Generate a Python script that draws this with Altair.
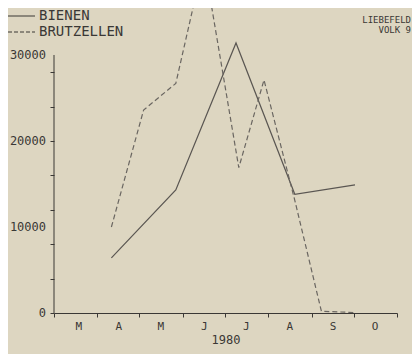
import altair as alt
import pandas as pd

# --- data ---
bienen_dates = ["1980-04-11", "1980-05-27", "1980-07-09", "1980-08-20", "1980-10-02"]
bienen_values = [6400, 14300, 31400, 13800, 14900]

brut_dates = ["1980-04-11", "1980-05-04", "1980-05-27", "1980-06-16", "1980-07-11",
              "1980-07-29", "1980-08-20", "1980-09-08", "1980-10-02"]
brut_values = [10000, 23600, 26700, 41000, 16900, 27100, 13100, 200, 50]

y_tick_values = list(range(0, 30001, 2000))
y_label_values = [0, 10000, 20000, 30000]
month_starts = list(range(3, 12))
legend_labels = ["BIENEN", "BRUTZELLEN"]
corner_labels = ["LIEBEFELD", "VOLK 9"]
x_title = "1980"

W, H = 343, 305
YMAX = 35465
BG = "#ddd6c1"
INK = "#3a3835"
FONT = "DejaVu Sans Mono"

df_b = pd.DataFrame({"date": bienen_dates, "value": bienen_values})
df_z = pd.DataFrame({"date": brut_dates, "value": brut_values})
df_yl = pd.DataFrame({"v": y_label_values})

x_scale = alt.Scale(domain=[alt.DateTime(year=1980, month=3, date=1),
                            alt.DateTime(year=1980, month=11, date=1)])
y_scale = alt.Scale(domain=[0, YMAX], nice=False, zero=True)

x_axis = alt.Axis(
    values=[alt.DateTime(year=1980, month=m, date=1) for m in month_starts],
    format="%b",
    labelExpr="datum.label == 'Nov' ? '' : substring(datum.label, 0, 1)",
    labelOffset=21,
    labelPadding=3,
    labelFontSize=11,
    labelOverlap=False,
    ticks=True,
    tickSize=4,
    title=x_title,
    titlePadding=3,
    grid=False,
)
y_axis = alt.Axis(
    values=y_tick_values,
    labels=False,
    domain=False,
    ticks=True,
    tickSize=4,
    title=None,
    grid=False,
)

bienen = alt.Chart(df_b).mark_line(color="#5a5652", strokeWidth=1.2, clip=True).encode(
    x=alt.X("date:T", scale=x_scale, axis=x_axis),
    y=alt.Y("value:Q", scale=y_scale, axis=y_axis),
)
brut = alt.Chart(df_z).mark_line(color="#6a6661", strokeWidth=1.2, strokeDash=[5, 3], clip=True).encode(
    x=alt.X("date:T", scale=x_scale),
    y=alt.Y("value:Q", scale=y_scale),
)

yline = alt.Chart(pd.DataFrame({"lo": [0], "hi": [30000]})).mark_rule(color=INK, strokeWidth=1).encode(
    x=alt.value(0),
    y=alt.Y("lo:Q", scale=y_scale),
    y2="hi:Q",
)

ylabels = alt.Chart(df_yl).mark_text(
    align="right", baseline="middle", font=FONT, fontSize=12, color=INK).encode(
    x=alt.value(-8),
    y=alt.Y("v:Q", scale=y_scale),
    text=alt.Text("v:Q", format="d"),
)

leg_line1 = alt.Chart(pd.DataFrame({"t": [legend_labels[0]]})).mark_rule(color=INK, strokeWidth=1).encode(
    x=alt.value(-46), x2=alt.value(-19), y=alt.value(8))
leg_line2 = alt.Chart(pd.DataFrame({"t": [legend_labels[1]]})).mark_rule(color=INK, strokeWidth=1, strokeDash=[4, 2]).encode(
    x=alt.value(-46), x2=alt.value(-19), y=alt.value(24))
leg_text1 = alt.Chart(pd.DataFrame({"t": [legend_labels[0]]})).mark_text(
    align="left", baseline="middle", font=FONT, fontSize=14, color=INK).encode(
    x=alt.value(-15), y=alt.value(8), text="t:N")
leg_text2 = alt.Chart(pd.DataFrame({"t": [legend_labels[1]]})).mark_text(
    align="left", baseline="middle", font=FONT, fontSize=14, color=INK).encode(
    x=alt.value(-15), y=alt.value(24), text="t:N")
corner1 = alt.Chart(pd.DataFrame({"t": [corner_labels[0]]})).mark_text(
    align="right", baseline="middle", font=FONT, fontSize=9, color=INK).encode(
    x=alt.value(357), y=alt.value(12), text="t:N")
corner2 = alt.Chart(pd.DataFrame({"t": [corner_labels[1]]})).mark_text(
    align="right", baseline="middle", font=FONT, fontSize=9, color=INK).encode(
    x=alt.value(357), y=alt.value(22), text="t:N")

chart = alt.layer(
    bienen, brut, yline, ylabels, leg_line1, leg_line2, leg_text1, leg_text2, corner1, corner2
).properties(
    width=W, height=H,
    padding={"left": 46, "top": 0, "right": 15, "bottom": 41},
    autosize="none",
    background=BG,
).configure_view(stroke=None).configure_axis(
    domainColor=INK, tickColor=INK, labelColor=INK, titleColor=INK,
    labelFont=FONT, titleFont=FONT, labelFontSize=12, titleFontSize=12,
    titleFontWeight="normal", domainWidth=1, tickWidth=1,
)

chart.save("out.html", embed_options={"renderer": "svg", "actions": False})
